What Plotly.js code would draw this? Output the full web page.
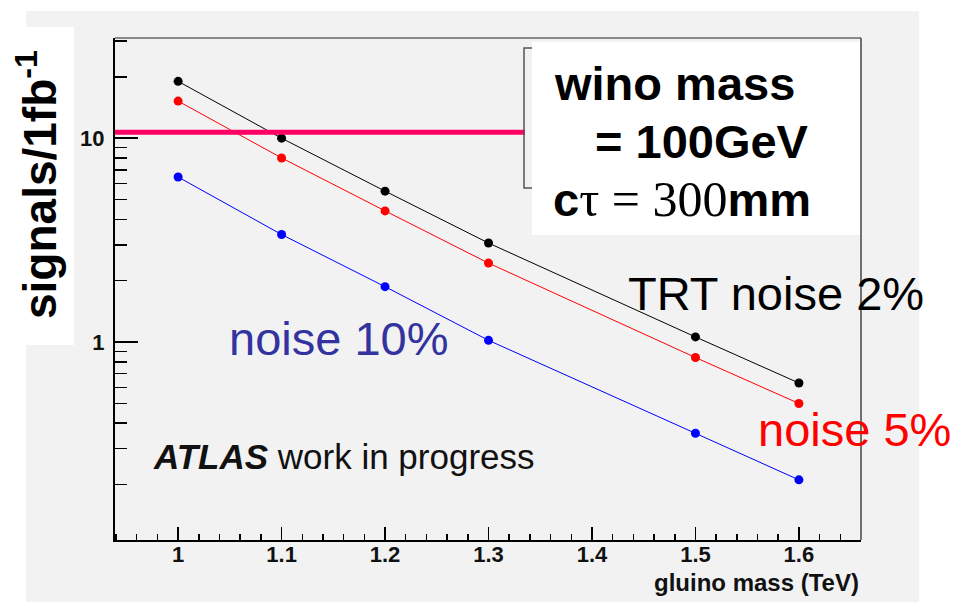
<!DOCTYPE html>
<html><head><meta charset="utf-8">
<script src="https://cdn.plot.ly/plotly-3.0.1.min.js"></script>
<style>html,body{margin:0;padding:0;background:#fff;}#chart{width:956px;height:603px;}</style>
</head><body><div id="chart"></div>
<script>
// ---- data ----
const gluinoMass = [1.0, 1.1, 1.2, 1.3, 1.5, 1.6];
const noise2  = [19.0, 10.0, 5.5, 3.06, 1.06, 0.63];
const noise5  = [15.2, 8.0, 4.4, 2.44, 0.84, 0.50];
const noise10 = [6.45, 3.37, 1.87, 1.02, 0.357, 0.211];
const thresholdSignal = [10.7];
const xTickVals = [1, 1.1, 1.2, 1.3, 1.4, 1.5, 1.6];
const xTickText = ['1', '1.1', '1.2', '1.3', '1.4', '1.5', '1.6'];
const yTickVals = [1, 10];
const yTickText = ['1', '10'];
const yMinorVals = [0.2,0.3,0.4,0.5,0.6,0.7,0.8,0.9,2,3,4,5,6,7,8,9,20,30];

// ---- geometry helpers (pixel -> paper) ----
const L = 115, R = 861, T = 38, B = 540;
const X = p => (p - L) / (R - L);
const Y = p => (B - p) / (B - T);
const SANS = 'Liberation Sans, Arial, sans-serif';
const SERIF = 'Liberation Serif, Times New Roman, serif';

function series(y, color) {
  return {
    x: gluinoMass, y: y, type: 'scatter', mode: 'lines+markers',
    line: {color: color, width: 1},
    marker: {color: color, size: 9, symbol: 'circle'},
    showlegend: false, hoverinfo: 'skip'
  };
}
const traces = [series(noise2, '#000000'), series(noise5, '#ff0000'), series(noise10, '#0000ff')];

const layout = {
  width: 956, height: 603,
  margin: {l: L, r: 956 - R, t: T, b: 603 - B, pad: 0},
  paper_bgcolor: '#ffffff', plot_bgcolor: '#f2f2f2',
  showlegend: false,
  xaxis: {
    range: [0.939, 1.66], tickmode: 'array', tickvals: xTickVals, ticktext: xTickText,
    ticks: 'inside', ticklen: 13, tickwidth: 1.5, tickcolor: '#000',
    minor: {tick0: 0, dtick: 0.02, ticks: 'inside', ticklen: 6, tickwidth: 1.5, tickcolor: '#000', showgrid: false},
    showline: true, linecolor: '#000', linewidth: 2, showgrid: false, zeroline: false,
    tickfont: {family: SANS, size: 22, color: '#111', weight: 'bold'},
    ticklabelstandoff: -6,
    fixedrange: true
  },
  yaxis: {
    type: 'log', range: [Math.log10(0.107), Math.log10(31)],
    tickmode: 'array', tickvals: yTickVals, ticktext: yTickText,
    ticks: 'inside', ticklen: 23, tickwidth: 1.5, tickcolor: '#000',
    minor: {tickmode: 'array', tickvals: yMinorVals, ticks: 'inside', ticklen: 12, tickwidth: 1.5, tickcolor: '#000', showgrid: false},
    showline: true, linecolor: '#000', linewidth: 2, showgrid: false, zeroline: false,
    tickfont: {family: SANS, size: 22, color: '#111', weight: 'bold'},
    ticklabelstandoff: 4,
    fixedrange: true
  },
  shapes: [
    {type: 'rect', xref: 'paper', yref: 'paper', x0: X(26), x1: X(919), y0: Y(602), y1: Y(11),
     fillcolor: '#f2f2f2', line: {width: 0}, layer: 'below'},
    {type: 'rect', xref: 'paper', yref: 'paper', x0: X(0), x1: X(74), y0: Y(345), y1: Y(27),
     fillcolor: '#ffffff', line: {width: 0}, layer: 'below'},
    {type: 'line', xref: 'paper', yref: 'paper', x0: 0, x1: 1, y0: 1, y1: 1, line: {color: '#666', width: 1.5}},
    {type: 'line', xref: 'paper', yref: 'paper', x0: 1, x1: 1, y0: 0, y1: 1, line: {color: '#444', width: 1.5}},
    {type: 'line', xref: 'paper', yref: 'y', x0: 0, x1: X(525), y0: thresholdSignal[0], y1: thresholdSignal[0],
     line: {color: '#ff0066', width: 5}},
    {type: 'rect', xref: 'paper', yref: 'paper', x0: X(524), x1: X(700), y0: Y(188), y1: Y(48),
     fillcolor: 'rgba(0,0,0,0)', line: {color: '#555', width: 1.5}},
    {type: 'rect', xref: 'paper', yref: 'paper', x0: X(532), x1: X(860), y0: Y(235), y1: Y(42),
     fillcolor: '#ffffff', line: {width: 0}}
  ],
  annotations: [
    {text: 'signals/1fb<sup>-1</sup>', textangle: -90, xref: 'paper', yref: 'paper', x: X(37), y: Y(185),
     xanchor: 'center', yanchor: 'middle', showarrow: false,
     font: {family: SANS, size: 46, color: '#000', weight: 'bold'}},
    {text: 'wino mass', xref: 'paper', yref: 'paper', x: X(552), y: Y(83), xanchor: 'left', yanchor: 'middle',
     showarrow: false, font: {family: SANS, size: 47, color: '#000', weight: 'bold'}},
    {text: '= 100GeV', xref: 'paper', yref: 'paper', x: X(593), y: Y(141), xanchor: 'left', yanchor: 'middle',
     showarrow: false, font: {family: SANS, size: 47, color: '#000', weight: 'bold'}},
    {text: '<b>c</b><span style="font-family:' + SERIF + ';font-weight:normal;font-size:50px">τ = 300</span><b>mm</b>',
     xref: 'paper', yref: 'paper', x: X(551), y: Y(199), xanchor: 'left', yanchor: 'middle',
     showarrow: false, font: {family: SANS, size: 47, color: '#000'}},
    {text: 'TRT noise 2%', xref: 'paper', yref: 'paper', x: X(626), y: Y(293), xanchor: 'left', yanchor: 'middle',
     showarrow: false, font: {family: SANS, size: 47, color: '#000'}},
    {text: 'noise 10%', xref: 'paper', yref: 'paper', x: X(227), y: Y(338), xanchor: 'left', yanchor: 'middle',
     showarrow: false, font: {family: SANS, size: 47, color: '#3333a0'}},
    {text: 'noise 5%', xref: 'paper', yref: 'paper', x: X(756), y: Y(429), xanchor: 'left', yanchor: 'middle',
     showarrow: false, font: {family: SANS, size: 47, color: '#ff0000'}},
    {text: '<b><i>ATLAS</i></b> work in progress', xref: 'paper', yref: 'paper', x: X(151), y: Y(456),
     xanchor: 'left', yanchor: 'middle', showarrow: false, font: {family: SANS, size: 35, color: '#111'}},
    {text: 'gluino mass (TeV)', xref: 'paper', yref: 'paper', x: X(861), y: Y(582), xanchor: 'right', yanchor: 'middle',
     showarrow: false, font: {family: SANS, size: 24, color: '#111', weight: 'bold'}}
  ]
};

Plotly.newPlot('chart', traces, layout, {staticPlot: true, displayModeBar: false});
</script>
</body></html>
